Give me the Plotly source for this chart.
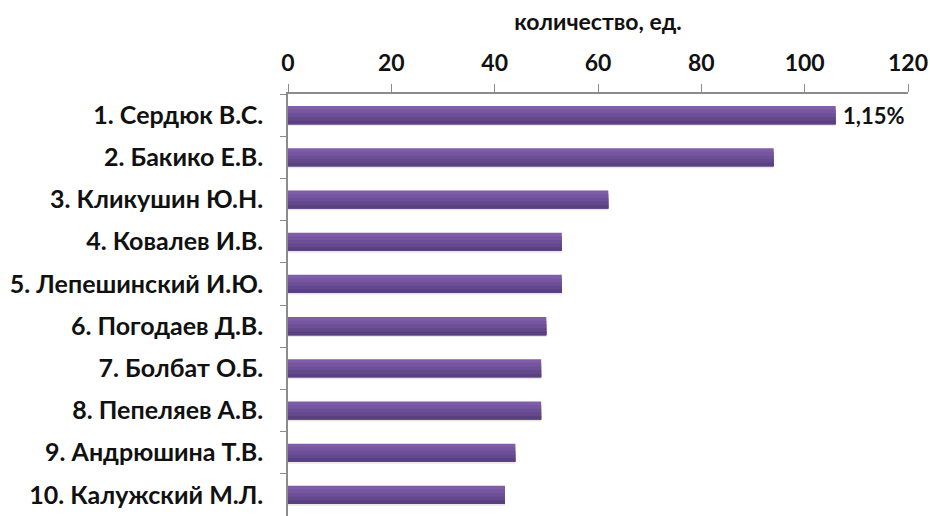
import plotly.graph_objects as go

# Rating of authors by number of items
names = [
    "1. Сердюк В.С.",
    "2. Бакико Е.В.",
    "3. Кликушин Ю.Н.",
    "4. Ковалев И.В.",
    "5. Лепешинский И.Ю.",
    "6. Погодаев Д.В.",
    "7. Болбат О.Б.",
    "8. Пепеляев А.В.",
    "9. Андрюшина Т.В.",
    "10. Калужский М.Л.",
]
counts = [106, 94, 62, 53, 53, 50, 49, 49, 44, 42]
top_label = "1,15%"
x_ticks = [0, 20, 40, 60, 80, 100, 120]

FONT = "Lato"
BAR_W = 0.43
# vertical shading of each bar, top band first
bands = ["#7F5DA8", "#7656A1", "#6D4F98", "#64488C", "#5B4080"]

fig = go.Figure()

# soft drop shadow behind the bars
fig.add_trace(go.Bar(
    y=names, x=counts, orientation="h",
    width=BAR_W, offset=-BAR_W / 2 + 0.045,
    marker=dict(color="rgba(0,0,0,0.09)", line=dict(width=0)),
    hoverinfo="skip",
))

# each band runs from its own top edge down to the bar's bottom edge,
# so the darker bands overlay the lighter ones without seams
band_w = BAR_W / len(bands)
for i, col in enumerate(bands):
    fig.add_trace(go.Bar(
        y=names, x=counts, orientation="h",
        width=BAR_W - i * band_w, offset=-BAR_W / 2 + i * band_w,
        marker=dict(color=col, line=dict(width=0)),
    ))

fig.add_annotation(
    x=counts[0], y=names[0], text=top_label,
    xanchor="left", yanchor="middle", xshift=5, showarrow=False,
    font=dict(family=FONT, size=22, color="#111111", weight="bold"),
)

fig.update_layout(
    width=930,
    height=516,
    margin=dict(l=288, r=22, t=94, b=0),
    paper_bgcolor="white",
    plot_bgcolor="white",
    showlegend=False,
    barmode="overlay",
    font=dict(family=FONT, color="#111111"),
)

fig.update_xaxes(
    side="top",
    range=[0, 120],
    tickvals=x_ticks,
    showgrid=False,
    zeroline=False,
    showline=True,
    linecolor="#8C8C8C",
    linewidth=1.5,
    ticks="outside",
    ticklen=8,
    tickcolor="#8C8C8C",
    ticklabelstandoff=4,
    tickfont=dict(family=FONT, size=23, color="#111111", weight="bold"),
    title=dict(text="количество, ед.", font=dict(family=FONT, size=23, color="#111111", weight="bold"), standoff=11),
)

fig.update_yaxes(
    type="category",
    autorange="reversed",
    showgrid=False,
    showline=True,
    linecolor="#8C8C8C",
    linewidth=1.5,
    ticks="outside",
    tickson="boundaries",
    ticklen=6,
    tickcolor="#8C8C8C",
    ticklabelstandoff=18,
    tickfont=dict(family=FONT, size=25, color="#111111", weight="bold"),
)

fig.write_html("out.html")
